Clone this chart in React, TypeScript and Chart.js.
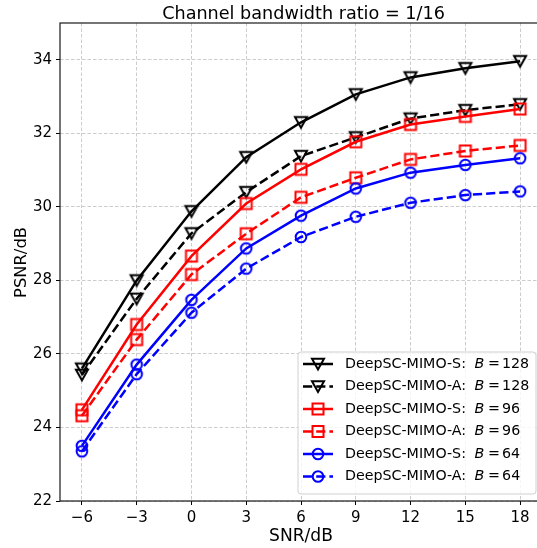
import React, { useEffect, useRef } from "react";
import { Chart, registerables } from "chart.js";
Chart.register(...registerables);

const snr = [-6, -3, 0, 3, 6, 9, 12, 15, 18];
const sB128 = [25.6, 28.0, 29.88, 31.35, 32.3, 33.06, 33.52, 33.77, 33.96];
const aB128 = [25.43, 27.5, 29.28, 30.4, 31.38, 31.89, 32.4, 32.63, 32.79];
const sB96 = [24.48, 26.8, 28.66, 30.09, 31.02, 31.77, 32.24, 32.46, 32.66];
const aB96 = [24.32, 26.39, 28.16, 29.27, 30.26, 30.79, 31.29, 31.52, 31.67];
const sB64 = [23.5, 25.71, 27.47, 28.87, 29.76, 30.5, 30.93, 31.14, 31.32];
const aB64 = [23.35, 25.45, 27.12, 28.32, 29.18, 29.73, 30.11, 30.32, 30.42];
const xTicks = [-6, -3, 0, 3, 6, 9, 12, 15, 18];
const yTicks = [22, 24, 26, 28, 30, 32, 34];
const seriesNames = [
  "DeepSC-MIMO-S:",
  "DeepSC-MIMO-A:",
  "DeepSC-MIMO-S:",
  "DeepSC-MIMO-A:",
  "DeepSC-MIMO-S:",
  "DeepSC-MIMO-A:",
];
const seriesB = ["128", "128", "96", "96", "64", "64"];
const titleText = "Channel bandwidth ratio = 1/16";
const xTitle = "SNR/dB";
const yTitle = "PSNR/dB";

const FONT = "'DejaVu Sans', sans-serif";
const DASH = [9.2, 4];

function strokeMarker(ctx: CanvasRenderingContext2D, shape: string, cx: number, cy: number, color: string) {
  ctx.save();
  ctx.setLineDash([]);
  ctx.strokeStyle = color;
  ctx.lineWidth = 2;
  ctx.lineJoin = "miter";
  ctx.beginPath();
  if (shape === "tri") {
    ctx.moveTo(cx - 6, cy - 5.2);
    ctx.lineTo(cx + 6, cy - 5.2);
    ctx.lineTo(cx, cy + 5.4);
    ctx.closePath();
  } else if (shape === "sq") {
    ctx.rect(cx - 5.5, cy - 5.5, 11, 11);
  } else {
    ctx.arc(cx, cy, 5.3, 0, Math.PI * 2);
  }
  ctx.stroke();
  ctx.restore();
}

function makeMarker(shape: string, color: string) {
  const c = document.createElement("canvas");
  c.width = 20;
  c.height = 20;
  const ctx = c.getContext("2d")!;
  strokeMarker(ctx, shape, 10, 10, color);
  return c;
}

function fitFont(ctx: CanvasRenderingContext2D, text: string, width: number, style = "") {
  ctx.font = style + "20px " + FONT;
  const w = ctx.measureText(text).width;
  const size = (20 * width) / w;
  return style + size.toFixed(2) + "px " + FONT;
}

const fmt = (v: number) => (v < 0 ? "\u2212" + Math.abs(v) : String(v));

export default function App() {
  const ref = useRef<HTMLCanvasElement>(null);
  useEffect(() => {
    const styles = [
      { data: sB128, color: "#000000", shape: "tri", dashed: false },
      { data: aB128, color: "#000000", shape: "tri", dashed: true },
      { data: sB96, color: "#ff0000", shape: "sq", dashed: false },
      { data: aB96, color: "#ff0000", shape: "sq", dashed: true },
      { data: sB64, color: "#0000ff", shape: "circ", dashed: false },
      { data: aB64, color: "#0000ff", shape: "circ", dashed: true },
    ];
    const datasets = styles.map((s, i) => ({
      label: seriesNames[i] + " B = " + seriesB[i],
      data: snr.map((x, j) => ({ x, y: s.data[j] })),
      borderColor: s.color,
      backgroundColor: s.color,
      borderWidth: 2.5,
      borderDash: s.dashed ? DASH : [],
      pointStyle: makeMarker(s.shape, s.color) as any,
      pointRadius: 6,
      pointHoverRadius: 6,
      tension: 0,
      fill: false,
      order: 6 - i,
    }));

    const decor = {
      id: "decor",
      afterDatasetsDraw(chart: any) {
        const ctx = chart.ctx as CanvasRenderingContext2D;
        const a = chart.chartArea;
        ctx.save();
        // frame
        ctx.strokeStyle = "#1a1a1a";
        ctx.lineWidth = 1.2;
        ctx.strokeRect(a.left, a.top, a.right - a.left, a.bottom - a.top);
        // title
        ctx.fillStyle = "#000";
        ctx.textAlign = "center";
        ctx.textBaseline = "alphabetic";
        ctx.font = fitFont(ctx, titleText, 283);
        ctx.fillText(titleText, 303.5, 18.5);
        // x title
        ctx.font = fitFont(ctx, xTitle, 64);
        ctx.fillText(xTitle, 301, 540.5);
        // y title
        ctx.save();
        ctx.translate(26, 262.5);
        ctx.rotate(-Math.PI / 2);
        ctx.font = fitFont(ctx, yTitle, 71);
        ctx.fillText(yTitle, 0, 0);
        ctx.restore();

        // legend
        const lx = 298, ly = 352, lw = 238, lh = 142;
        ctx.beginPath();
        const r = 3;
        ctx.moveTo(lx + r, ly);
        ctx.lineTo(lx + lw - r, ly);
        ctx.arcTo(lx + lw, ly, lx + lw, ly + r, r);
        ctx.lineTo(lx + lw, ly + lh - r);
        ctx.arcTo(lx + lw, ly + lh, lx + lw - r, ly + lh, r);
        ctx.lineTo(lx + r, ly + lh);
        ctx.arcTo(lx, ly + lh, lx, ly + lh - r, r);
        ctx.lineTo(lx, ly + r);
        ctx.arcTo(lx, ly, lx + r, ly, r);
        ctx.closePath();
        ctx.fillStyle = "rgba(255,255,255,0.8)";
        ctx.fill();
        ctx.strokeStyle = "#d0d0d0";
        ctx.lineWidth = 1;
        ctx.stroke();

        const legFont = fitFont(ctx, "DeepSC-MIMO-S:", 121);
        const legItalic = fitFont(ctx, "DeepSC-MIMO-S:", 121, "italic ");
        styles.forEach((s, i) => {
          const y = 364 + i * 22.5;
          ctx.save();
          ctx.strokeStyle = s.color;
          ctx.lineWidth = 2.5;
          ctx.setLineDash(s.dashed ? DASH : []);
          ctx.beginPath();
          ctx.moveTo(303, y);
          ctx.lineTo(333, y);
          ctx.stroke();
          ctx.restore();
          strokeMarker(ctx, s.shape, 318, y, s.color);
          ctx.fillStyle = "#000";
          ctx.textAlign = "left";
          ctx.textBaseline = "middle";
          const x0 = 345;
          ctx.font = legFont;
          ctx.fillText(seriesNames[i], x0, y);
          const xB = x0 + ctx.measureText(seriesNames[i]).width + 8.5;
          ctx.font = legItalic;
          ctx.fillText("B", xB, y);
          ctx.font = legFont;
          ctx.fillText("=", xB + 13.5, y);
          ctx.fillText(seriesB[i], xB + 27.5, y);
        });
        ctx.restore();
      },
    };

    const gridCommon = {
      color: "#cccccc",
      lineWidth: 1,
      borderDash: [3.5, 2],
      tickColor: "#000",
      tickLength: 4,
      tickWidth: 1,
      tickBorderDash: [],
    };

    const chart = new Chart(ref.current!, {
      type: "line",
      data: { datasets: datasets as any },
      plugins: [decor],
      options: {
        animation: false,
        responsive: false,
        devicePixelRatio: 1,
        layout: { padding: { top: 23, right: 18, left: 0, bottom: 0 } },
        plugins: { legend: { display: false }, title: { display: false }, tooltip: { enabled: false } },
        events: [],
        scales: {
          x: {
            type: "linear",
            min: -7.2,
            max: 19.2,
            afterBuildTicks: (s: any) => {
              s.ticks = xTicks.map((v) => ({ value: v }));
            },
            afterFit: (s: any) => {
              s.height = 47;
            },
            ticks: {
              callback: (v: any) => fmt(Number(v)),
              font: { family: FONT, size: 15 },
              color: "#000",
              padding: 4,
              autoSkip: false,
              maxRotation: 0,
            },
            grid: gridCommon as any,
            border: { display: false, dash: [3.5, 2] },
          },
          y: {
            type: "linear",
            min: 22,
            max: 35,
            afterBuildTicks: (s: any) => {
              s.ticks = yTicks.map((v) => ({ value: v }));
            },
            afterFit: (s: any) => {
              s.width = 60;
            },
            ticks: {
              callback: (v: any) => fmt(Number(v)),
              font: { family: FONT, size: 15 },
              color: "#000",
              padding: 4,
              autoSkip: false,
            },
            grid: gridCommon as any,
            border: { display: false, dash: [3.5, 2] },
          },
        },
      } as any,
    });
    return () => chart.destroy();
  }, []);

  return (
    <div style={{ position: "fixed", left: 0, top: 0, width: 537, height: 548, overflow: "hidden", background: "#fff" }}>
      <canvas ref={ref} width={560} height={548} style={{ display: "block", width: 560, height: 548 }} />
    </div>
  );
}
